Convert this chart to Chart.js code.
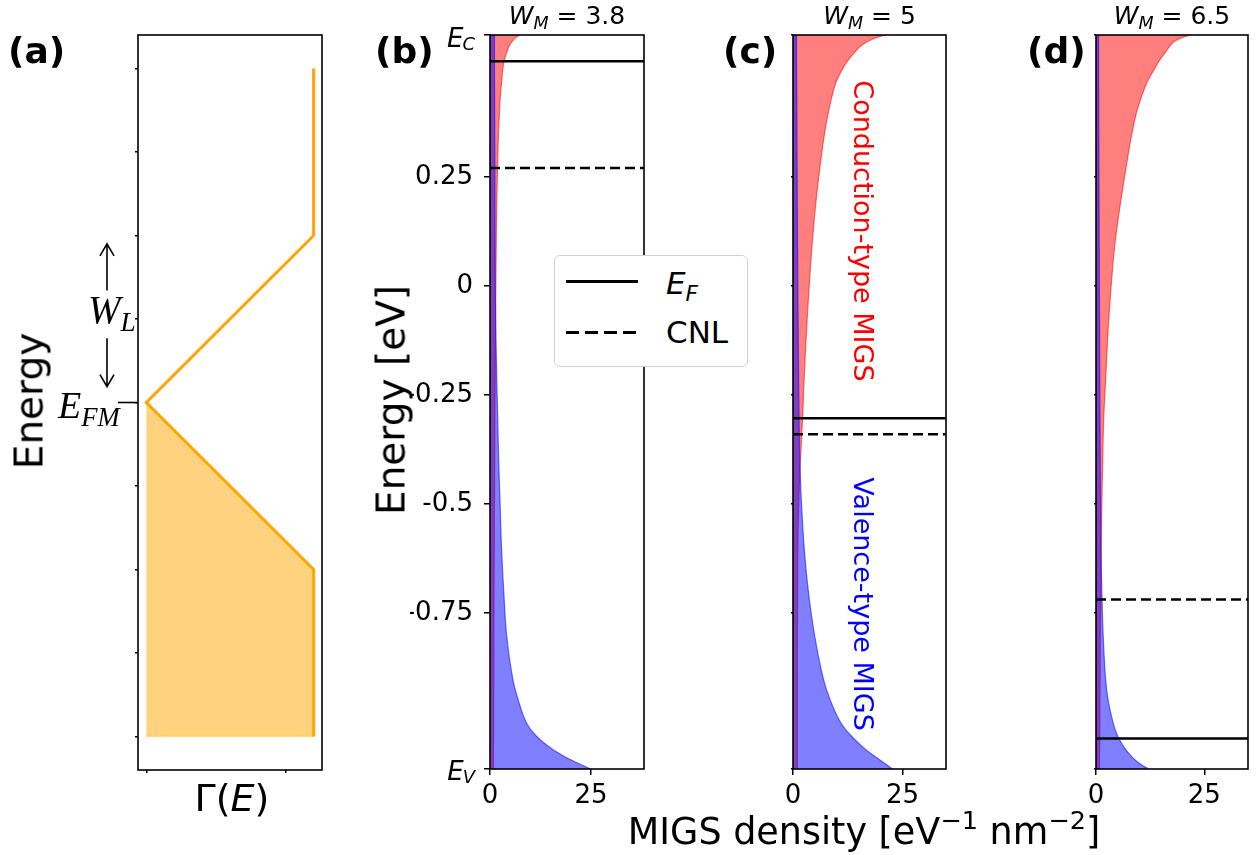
<!DOCTYPE html>
<html>
<head>
<meta charset="utf-8">
<script src="https://cdn.jsdelivr.net/npm/chart.js@4.4.0/dist/chart.umd.min.js"></script>
<style>
body { margin: 0; background: #fff; }
#wrap { position: relative; width: 1258px; height: 855px; overflow: hidden; font-family: 'DejaVu Sans'; }
canvas.layer { position: absolute; left: 0; top: 0; }
.t { position: absolute; white-space: nowrap; line-height: 1; color: #000; }
.serif { font-family: 'Liberation Serif'; font-style: italic; }
.sb { font-size: 0.7em; position: relative; top: 0.3em; }
.sp { font-size: 0.7em; position: relative; top: -0.6em; }
.panel { font-weight: bold; font-size: 36px; }
.rot { transform: translate(-50%, -50%) rotate(-90deg); }
.rotcw { transform: translate(-50%, -50%) rotate(90deg); }
#legend { position: absolute; left: 554px; top: 255px; width: 194px; height: 112px; box-sizing: border-box;
  border: 1.5px solid #d2d2d2; border-radius: 6px; background: #fff; }
.lg-line { position: absolute; left: 11px; width: 72px; height: 3px; background: #000; }
.lg-dash { position: absolute; left: 11px; width: 72px; height: 3px;
  background: repeating-linear-gradient(to right, #000 0 13px, transparent 13px 19px); }
</style>
</head>
<body>
<div id="wrap">
  <canvas id="chartA" class="layer" width="1258" height="855"></canvas>
  <canvas id="chartB" class="layer" width="1258" height="855"></canvas>
  <canvas id="chartC" class="layer" width="1258" height="855"></canvas>
  <canvas id="chartD" class="layer" width="1258" height="855"></canvas>

  <div class="t panel" style="left:8px;top:33px">(a)</div>
  <div class="t panel" style="left:375px;top:33px">(b)</div>
  <div class="t panel" style="left:723px;top:33px">(c)</div>
  <div class="t panel" style="left:1027px;top:33px">(d)</div>

  <div class="t rot" style="left:29px;top:401px;font-size:39px">Energy</div>
  <div class="t" style="left:232px;top:779px;font-size:38px;transform:translateX(-50%)">&Gamma;(<i>E</i>)</div>
  <div class="t serif" style="left:88px;top:290px;font-size:39px">W<span class="sb">L</span></div>
  <div class="t serif" style="left:58px;top:386px;font-size:38px">E<span class="sb">FM</span></div>

  <div class="t rot" style="left:391px;top:400px;font-size:39px">Energy [eV]</div>
  <div class="t" style="left:864px;top:814px;font-size:36.5px;transform:translateX(-50%)">MIGS density [eV<span class="sp">&minus;1</span> nm<span class="sp">&minus;2</span>]</div>

  <div class="t rotcw" style="left:863px;top:231px;font-size:27px;color:#ff0000">Conduction-type MIGS</div>
  <div class="t rotcw" style="left:863px;top:604px;font-size:27px;color:#0000ff">Valence-type MIGS</div>

  <div id="titles"></div>

  <div id="legend">
    <div class="lg-line" style="top:24px"></div>
    <div class="lg-dash" style="top:75px"></div>
    <div class="t" style="left:111px;top:12px;font-size:31px"><i>E</i><span class="sb"><i>F</i></span></div>
    <div class="t" style="left:111px;top:61px;font-size:31px">CNL</div>
  </div>
</div>

<script>
// Panel (a): schematic density of states of the metal
const gammaX = [1.2, 1.2, 0, 1.2, 1.2];
const gammaE = [8, 6, 4, 2, 0];
const fermiMetal = 4;               // E_FM level
const wlArrows = [[5.34, 5.9], [4.77, 4.19]]; // W_L arrows (from, to)
const schematicTicksY = [0, 1, 2, 3, 4, 5, 6, 7, 8];
const schematicTicksX = [0, 1];

// Panels (b)-(d): MIGS density vs energy
const eC = 0.576, eV = -1.108;
const energy = [0.576, 0.57, 0.56, 0.55, 0.54, 0.52, 0.50, 0.47, 0.44, 0.40, 0.35, 0.30, 0.20, 0.10, 0,
  -0.1, -0.2, -0.3, -0.4, -0.5, -0.6, -0.7, -0.8, -0.9, -0.95, -1.0, -1.03, -1.06, -1.08, -1.095, -1.108];

const condB = [7.4, 6.4, 5.4, 4.7, 4.3, 3.6, 3.2, 2.9, 2.6, 2.35, 2.1, 1.95, 1.7, 1.55, 1.45,
  1.35, 1.3, 1.2, 1.15, 1.1, 1.05, 1.0, 0.95, 0.95, 0.9, 0.9, 0.9, 0.85, 0.85, 0.85, 0.85];
const valB = [1.1, 1.1, 1.1, 1.1, 1.1, 1.1, 1.1, 1.12, 1.13, 1.15, 1.17, 1.19, 1.22, 1.25, 1.3,
  1.45, 1.65, 1.9, 2.15, 2.5, 2.85, 3.4, 4.1, 5.6, 7.0, 8.9, 11.2, 15.0, 18.5, 21.8, 24.8];

const condC = [21.1, 19.0, 16.8, 15.4, 14.4, 12.7, 11.4, 9.9, 9.0, 8.1, 7.2, 6.5, 5.3, 4.4, 3.7,
  3.1, 2.6, 2.2, 1.7, 1.3, 1.1, 1.05, 1.0, 1.0, 1.0, 1.0, 1.0, 1.0, 1.0, 1.0, 1.0];
const valC = [0.8, 0.8, 0.8, 0.8, 0.8, 0.8, 0.82, 0.84, 0.86, 0.88, 0.9, 0.92, 0.97, 1.03, 1.1,
  1.18, 1.27, 1.38, 1.55, 1.95, 2.55, 3.5, 4.9, 6.9, 8.5, 10.8, 13.1, 16.2, 18.8, 20.9, 22.7];

const condD = [21.8, 19.8, 17.9, 17.0, 16.3, 14.8, 13.6, 11.9, 10.7, 9.4, 8.3, 7.4, 5.8, 4.4, 3.5,
  2.8, 2.3, 1.8, 1.55, 1.35, 1.2, 1.1, 1.0, 0.95, 0.9, 0.9, 0.85, 0.85, 0.8, 0.8, 0.8];
const valD = [0.6, 0.6, 0.6, 0.6, 0.6, 0.6, 0.6, 0.6, 0.62, 0.63, 0.65, 0.67, 0.7, 0.74, 0.78,
  0.82, 0.87, 0.92, 0.98, 1.05, 1.15, 1.35, 1.65, 2.2, 2.8, 3.9, 4.9, 6.6, 8.3, 10.0, 12.1];

const fermiLevel = [0.516, -0.303, -1.038];
const cnlLevel = [0.271, -0.340, -0.719];
const workFunction = ['3.8', '5', '6.5'];
const densityMax = [38.1, 34.9, 35.1];
const energyTicks = [0.25, 0, -0.25, -0.5, -0.75];
const energyTickLabels = ['0.25', '0', '-0.25', '-0.5', '-0.75'];
const densityTicks = [0, 25];

// plot boxes in page pixels
const areaA = { left: 138, right: 322, top: 35, bottom: 770 };
const migsAreas = [
  { left: 490, right: 644, top: 35, bottom: 769 },
  { left: 793, right: 946, top: 35, bottom: 769 },
  { left: 1096, right: 1248, top: 35, bottom: 769 }
];

Chart.defaults.font.family = 'DejaVu Sans';
Chart.defaults.color = '#000';

// Draw a full box round the plot area
const frame = {
  id: 'frame',
  afterDraw(chart) {
    const { ctx, chartArea: a } = chart;
    ctx.save();
    ctx.strokeStyle = '#000';
    ctx.lineWidth = 1.6;
    ctx.strokeRect(a.left, a.top, a.right - a.left, a.bottom - a.top);
    ctx.restore();
  }
};

// E_FM tick and the W_L arrows of panel (a)
const arrowX = 107;
const levelMarks = {
  id: 'levelMarks',
  afterDraw(chart) {
    const { ctx, chartArea: a, scales: { y } } = chart;
    ctx.save();
    ctx.strokeStyle = '#000';
    ctx.lineWidth = 1.6;
    const py = y.getPixelForValue(fermiMetal);
    ctx.beginPath();
    ctx.moveTo(a.left - 20, py);
    ctx.lineTo(a.left, py);
    ctx.stroke();
    wlArrows.forEach(([from, to]) => {
      const y0 = y.getPixelForValue(from), y1 = y.getPixelForValue(to);
      const dir = Math.sign(y1 - y0);
      ctx.beginPath();
      ctx.moveTo(arrowX, y0);
      ctx.lineTo(arrowX, y1);
      ctx.moveTo(arrowX - 7, y1 - dir * 12);
      ctx.lineTo(arrowX, y1);
      ctx.lineTo(arrowX + 7, y1 - dir * 12);
      ctx.stroke();
    });
    ctx.restore();
  }
};

// E_C / E_V tick labels with subscripts
const bandEdges = {
  id: 'bandEdges',
  afterDraw(chart) {
    const { ctx, chartArea: a, scales: { y } } = chart;
    ctx.save();
    ctx.fillStyle = '#000';
    ctx.textBaseline = 'alphabetic';
    [['C', eC, 12], ['V', eV, 11]].forEach(([sub, v, dy]) => {
      const py = y.getPixelForValue(v);
      const right = a.left - 15;
      ctx.font = 'italic 18px "DejaVu Sans"';
      const sw = ctx.measureText(sub).width;
      ctx.fillText(sub, right - sw, py + dy + 3);
      ctx.font = 'italic 26px "DejaVu Sans"';
      const ew = ctx.measureText('E').width;
      ctx.fillText('E', right - sw - ew + 1, py + dy);
    });
    ctx.restore();
  }
};

function tickGrid(len) {
  return { display: true, drawOnChartArea: false, drawTicks: true, tickLength: len, color: '#000', lineWidth: 1.5 };
}

function makeChart(id, area, datasets, scales, extra) {
  const yW = 80, xH = 60;
  scales.x.afterFit = s => { s.height = xH; };
  scales.y.afterFit = s => { s.width = yW; };
  return new Chart(document.getElementById(id), {
    type: 'line',
    data: { datasets },
    options: {
      indexAxis: 'y',
      responsive: false,
      animation: false,
      events: [],
      layout: { padding: { left: area.left - yW, right: 1258 - area.right, top: area.top, bottom: 855 - area.bottom - xH } },
      plugins: { legend: { display: false }, tooltip: { enabled: false } },
      elements: { point: { radius: 0 }, line: { tension: 0 } },
      scales
    },
    plugins: [frame].concat(extra || [])
  });
}

// Panel (a)
const gammaLine = gammaX.map((x, i) => ({ x, y: gammaE[i] }));
const gammaFilled = gammaLine.slice(2).concat([{ x: 0, y: gammaE[gammaE.length - 1] }]);
makeChart('chartA', areaA, [
  { data: gammaLine, borderColor: '#ffa500', borderWidth: 3, fill: false, order: 0 },
  { data: gammaFilled, borderColor: 'rgba(255,165,0,0.35)', borderWidth: 1.5,
    backgroundColor: 'rgba(255,165,0,0.5)', fill: 'origin', order: 1 }
], {
  x: { type: 'linear', min: -0.06, max: 1.26, border: { display: false }, grid: tickGrid(3),
       afterBuildTicks: s => { s.ticks = schematicTicksX.map(v => ({ value: v })); },
       ticks: { display: false } },
  y: { type: 'linear', min: -0.4, max: 8.4, border: { display: false }, grid: tickGrid(3),
       afterBuildTicks: s => { s.ticks = schematicTicksY.map(v => ({ value: v })); },
       ticks: { display: false } }
}, [levelMarks]);

// Panels (b)-(d)
const conduction = [condB, condC, condD];
const valence = [valB, valC, valD];
['chartB', 'chartC', 'chartD'].forEach((id, i) => {
  const xmax = densityMax[i];
  const first = i === 0;
  makeChart(id, migsAreas[i], [
    { data: [{ x: 0, y: fermiLevel[i] }, { x: xmax, y: fermiLevel[i] }], borderColor: '#000', borderWidth: 2.5, fill: false, order: 0 },
    { data: [{ x: 0, y: cnlLevel[i] }, { x: xmax, y: cnlLevel[i] }], borderColor: '#000', borderWidth: 2.5, borderDash: [10, 5], fill: false, order: 1 },
    { data: energy.map((e, k) => ({ x: valence[i][k], y: e })), borderColor: 'rgba(0,0,255,0.55)', borderWidth: 1.2,
      backgroundColor: 'rgba(0,0,255,0.5)', fill: 'origin', tension: 0.35, order: 2 },
    { data: energy.map((e, k) => ({ x: conduction[i][k], y: e })), borderColor: 'rgba(255,0,0,0.55)', borderWidth: 1.2,
      backgroundColor: 'rgba(255,0,0,0.5)', fill: 'origin', tension: 0.35, order: 3 }
  ], {
    x: { type: 'linear', min: 0, max: xmax, border: { display: false }, grid: tickGrid(6),
         afterBuildTicks: s => { s.ticks = densityTicks.map(v => ({ value: v })); },
         ticks: { font: { size: 26 }, color: '#000', padding: 6, maxRotation: 0, autoSkip: false } },
    y: { type: 'linear', min: eV, max: eC, border: { display: false }, grid: tickGrid(first ? 6 : 2),
         afterBuildTicks: s => { s.ticks = [eV].concat(energyTicks.slice().reverse(), [eC]).map(v => ({ value: v })); },
         ticks: { display: first, font: { size: 26 }, color: '#000', padding: 11, autoSkip: false,
                  callback: v => { const k = energyTicks.indexOf(v); return k >= 0 ? energyTickLabels[k] : ''; } } }
  }, first ? [bandEdges] : []);
});

// W_M titles above panels (b)-(d)
const titles = document.getElementById('titles');
workFunction.forEach((w, i) => {
  const a = migsAreas[i];
  const d = document.createElement('div');
  d.className = 't';
  d.style.cssText = `left:${(a.left + a.right) / 2}px;top:3px;font-size:25px;transform:translateX(-50%)`;
  d.innerHTML = `<i>W</i><span class="sb"><i>M</i></span> = ${w}`;
  titles.appendChild(d);
});
</script>
</body>
</html>
